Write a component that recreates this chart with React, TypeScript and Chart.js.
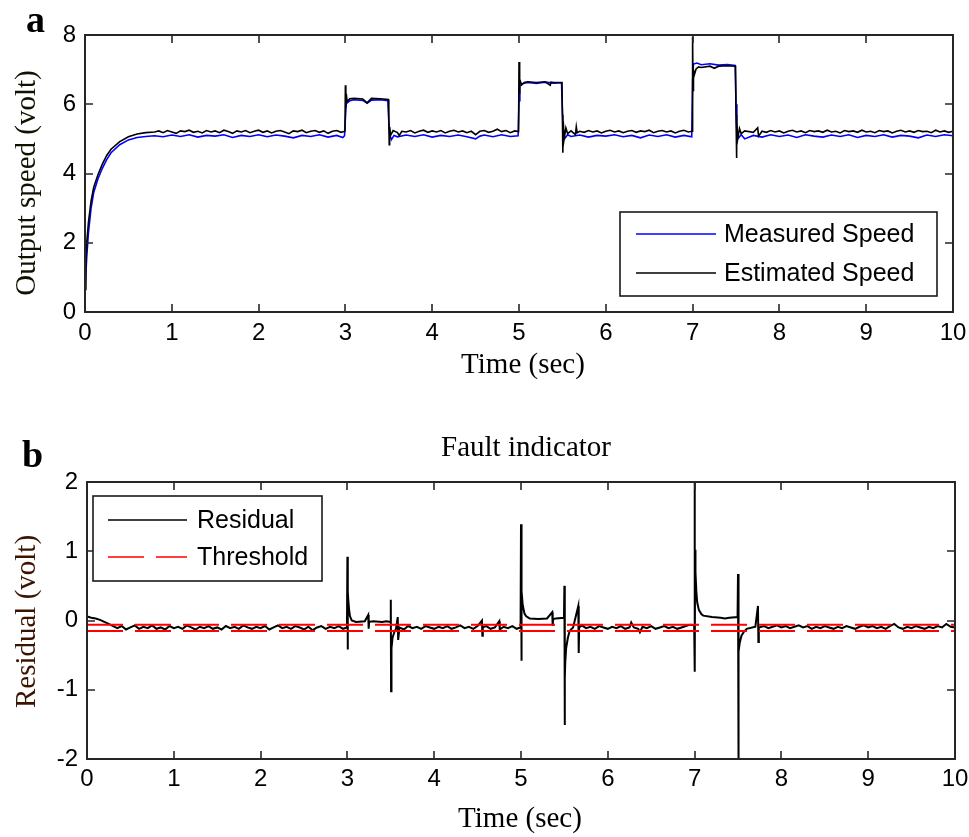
import React, { useEffect, useRef } from 'react';
import { Chart, registerables } from 'chart.js';

Chart.register(...registerables);

// ---------------- DATA ----------------
const xTickValues = [0, 1, 2, 3, 4, 5, 6, 7, 8, 9, 10];
const speedTicks = [0, 2, 4, 6, 8];
const residualTicks = [-2, -1, 0, 1, 2];

const seriesNames = ['Measured Speed', 'Estimated Speed', 'Residual', 'Threshold'];

// [time (sec), volt]
const measuredSpeed: [number, number][] = [
  [0, 0.6], [0.02, 1.6], [0.04, 2.3], [0.07, 3.0], [0.1, 3.45], [0.15, 3.85], [0.2, 4.15], [0.25, 4.4], [0.3, 4.6], [0.4, 4.83], [0.5, 4.97], [0.6, 5.04], [0.7, 5.07],
  [0.8, 5.09], [0.9, 5.06], [1.0, 5.11], [1.1, 5.07], [1.2, 5.12], [1.3, 5.05], [1.4, 5.1], [1.5, 5.08], [1.6, 5.12], [1.7, 5.04], [1.8, 5.1], [1.9, 5.07], [2.0, 5.12], [2.1, 5.06], [2.2, 5.11], [2.3, 5.08], [2.4, 5.03], [2.5, 5.1], [2.6, 5.07], [2.7, 5.12], [2.8, 5.05], [2.9, 5.1], [2.97, 5.04], [2.99, 5.09],
  [3.0, 5.6], [3.01, 6.02], [3.05, 6.1], [3.1, 6.13], [3.2, 6.11], [3.25, 6.03], [3.3, 6.12], [3.4, 6.13], [3.49, 6.1], [3.5, 5.5], [3.51, 5.12], [3.53, 4.98], [3.56, 5.1], [3.6, 5.06], [3.7, 5.11], [3.8, 5.07], [3.9, 5.12], [4.0, 5.05], [4.1, 5.1], [4.2, 5.07], [4.3, 5.11], [4.4, 5.06], [4.5, 5.0], [4.55, 5.08], [4.6, 5.11], [4.7, 5.06], [4.8, 5.12], [4.9, 5.07], [4.99, 5.09],
  [5.0, 6.1], [5.01, 6.52], [5.05, 6.6], [5.1, 6.63], [5.2, 6.6], [5.3, 6.64], [5.4, 6.61], [5.49, 6.62], [5.5, 5.8], [5.51, 5.2], [5.53, 5.02], [5.56, 5.12], [5.6, 5.07], [5.7, 5.11], [5.8, 5.05], [5.9, 5.1], [6.0, 5.08], [6.1, 5.12], [6.2, 5.06], [6.3, 5.1], [6.4, 5.03], [6.5, 5.11], [6.6, 5.07], [6.7, 5.12], [6.8, 5.05], [6.9, 5.1], [6.99, 5.06],
  [7.0, 6.7], [7.01, 7.16], [7.05, 7.19], [7.1, 7.14], [7.2, 7.17], [7.3, 7.13], [7.4, 7.15], [7.49, 7.12], [7.5, 6.0], [7.51, 5.2], [7.53, 5.03], [7.56, 5.12], [7.6, 5.0], [7.7, 5.1], [7.8, 5.05], [7.9, 5.12], [8.0, 5.07], [8.1, 5.11], [8.2, 5.04], [8.3, 5.12], [8.4, 5.08], [8.5, 5.05], [8.6, 5.11], [8.7, 5.07], [8.8, 5.12], [8.9, 5.04], [9.0, 5.1], [9.1, 5.07], [9.2, 5.12], [9.3, 5.05], [9.4, 5.1], [9.5, 5.08], [9.6, 5.03], [9.7, 5.11], [9.8, 5.07], [9.9, 5.12], [10, 5.09],
];

const estimatedSpeed: [number, number][] = [
  [0, 0.65], [0.01, 1.3], [0.02, 2.0], [0.04, 2.6], [0.07, 3.2], [0.1, 3.6], [0.15, 3.97], [0.2, 4.27], [0.25, 4.52], [0.3, 4.7], [0.4, 4.92], [0.5, 5.06], [0.6, 5.14], [0.7, 5.18],
  [0.8, 5.2], [0.85, 5.23], [0.9, 5.18], [0.95, 5.24], [1.0, 5.2], [1.05, 5.16], [1.1, 5.23], [1.15, 5.21], [1.2, 5.25], [1.25, 5.19], [1.3, 5.22], [1.35, 5.17], [1.4, 5.24], [1.45, 5.2], [1.5, 5.23], [1.55, 5.18], [1.6, 5.25], [1.65, 5.21], [1.7, 5.16], [1.75, 5.23], [1.8, 5.2], [1.85, 5.24], [1.9, 5.18], [1.95, 5.22], [2.0, 5.25], [2.05, 5.19], [2.1, 5.23], [2.15, 5.17], [2.2, 5.22], [2.25, 5.24], [2.3, 5.2], [2.35, 5.15], [2.4, 5.23], [2.45, 5.21], [2.5, 5.25], [2.55, 5.18], [2.6, 5.22], [2.65, 5.24], [2.7, 5.19], [2.75, 5.23], [2.8, 5.16], [2.85, 5.22], [2.9, 5.24], [2.95, 5.19], [2.995, 5.22],
  [3.0, 6.55], [3.005, 5.9], [3.01, 6.3], [3.02, 6.08], [3.05, 6.16], [3.1, 6.17], [3.2, 6.15], [3.25, 6.04], [3.3, 6.17], [3.4, 6.16], [3.495, 6.14], [3.5, 5.6], [3.505, 4.83], [3.51, 5.35], [3.52, 5.1],
  [3.55, 5.24], [3.6, 5.18], [3.62, 5.1], [3.65, 5.22], [3.7, 5.2], [3.75, 5.24], [3.8, 5.17], [3.85, 5.22], [3.9, 5.25], [3.95, 5.19], [4.0, 5.23], [4.05, 5.2], [4.1, 5.24], [4.15, 5.17], [4.2, 5.22], [4.25, 5.25], [4.3, 5.2], [4.35, 5.23], [4.4, 5.18], [4.45, 5.22], [4.5, 5.12], [4.55, 5.22], [4.6, 5.24], [4.65, 5.19], [4.7, 5.22], [4.75, 5.28], [4.8, 5.21], [4.85, 5.24], [4.9, 5.18], [4.95, 5.23], [4.995, 5.21],
  [5.0, 7.22], [5.005, 6.3], [5.01, 6.72], [5.03, 6.56], [5.06, 6.63], [5.1, 6.65], [5.2, 6.63], [5.3, 6.65], [5.36, 6.55], [5.37, 6.64], [5.4, 6.63], [5.495, 6.63], [5.5, 5.7], [5.505, 4.6], [5.51, 5.5], [5.52, 5.0], [5.54, 5.32], [5.56, 5.15], [5.6, 5.23], [5.65, 5.12], [5.66, 5.35], [5.67, 5.18],
  [5.7, 5.22], [5.75, 5.19], [5.8, 5.24], [5.85, 5.2], [5.9, 5.23], [5.95, 5.17], [6.0, 5.22], [6.05, 5.25], [6.1, 5.2], [6.15, 5.23], [6.2, 5.18], [6.25, 5.22], [6.3, 5.24], [6.35, 5.19], [6.4, 5.23], [6.45, 5.21], [6.5, 5.25], [6.55, 5.18], [6.6, 5.22], [6.65, 5.24], [6.7, 5.2], [6.75, 5.23], [6.8, 5.17], [6.85, 5.22], [6.9, 5.25], [6.95, 5.2], [6.995, 5.22],
  [7.0, 7.95], [7.005, 6.4], [7.01, 7.0], [7.02, 6.85], [7.04, 7.02], [7.07, 7.08], [7.1, 7.06], [7.2, 7.1], [7.25, 7.04], [7.3, 7.1], [7.4, 7.11], [7.495, 7.1], [7.5, 5.7], [7.505, 4.45], [7.51, 5.5], [7.52, 5.0], [7.54, 5.3], [7.56, 5.15], [7.6, 5.23], [7.7, 5.19], [7.75, 5.32], [7.76, 5.08],
  [7.8, 5.22], [7.85, 5.19], [7.9, 5.24], [7.95, 5.2], [8.0, 5.23], [8.05, 5.17], [8.1, 5.22], [8.15, 5.25], [8.2, 5.2], [8.25, 5.23], [8.3, 5.18], [8.35, 5.24], [8.4, 5.21], [8.45, 5.23], [8.5, 5.19], [8.55, 5.25], [8.6, 5.2], [8.65, 5.22], [8.7, 5.17], [8.75, 5.24], [8.8, 5.21], [8.85, 5.23], [8.9, 5.19], [8.95, 5.25], [9.0, 5.2], [9.05, 5.22], [9.1, 5.18], [9.15, 5.24], [9.2, 5.21], [9.25, 5.23], [9.3, 5.17], [9.35, 5.22], [9.4, 5.25], [9.45, 5.2], [9.5, 5.23], [9.55, 5.19], [9.6, 5.24], [9.65, 5.21], [9.7, 5.22], [9.75, 5.18], [9.8, 5.25], [9.85, 5.2], [9.9, 5.23], [9.95, 5.19], [10, 5.22],
];

const residual: [number, number][] = [
  [0, 0.06], [0.05, 0.04], [0.1, 0.03], [0.15, 0.01], [0.2, -0.02], [0.25, -0.05],
  [0.3, -0.08], [0.35, -0.11], [0.4, -0.08], [0.45, -0.13], [0.5, -0.1], [0.55, -0.07], [0.6, -0.12], [0.65, -0.09], [0.7, -0.11], [0.75, -0.07], [0.8, -0.12], [0.85, -0.1], [0.9, -0.13], [0.95, -0.08], [1.0, -0.11], [1.05, -0.09], [1.1, -0.12], [1.15, -0.07], [1.2, -0.1], [1.25, -0.13], [1.3, -0.09], [1.35, -0.11], [1.4, -0.08], [1.45, -0.12], [1.5, -0.1], [1.55, -0.13], [1.6, -0.08], [1.65, -0.11], [1.7, -0.09], [1.75, -0.12], [1.8, -0.07], [1.85, -0.1], [1.9, -0.12], [1.95, -0.09], [2.0, -0.11], [2.05, -0.08], [2.1, -0.13], [2.15, -0.1], [2.2, -0.07], [2.25, -0.11], [2.3, -0.09], [2.35, -0.12], [2.4, -0.08], [2.45, -0.1], [2.5, -0.13], [2.55, -0.09], [2.6, -0.14], [2.65, -0.1], [2.7, -0.08], [2.75, -0.12], [2.8, -0.09], [2.85, -0.11], [2.9, -0.08], [2.95, -0.12], [2.995, -0.1],
  [3.0, 0.92], [3.003, -0.42], [3.006, 0.42], [3.01, 0.3], [3.02, 0.15], [3.03, 0.06], [3.05, 0.0], [3.1, -0.02], [3.2, -0.01], [3.24, 0.08], [3.245, -0.12], [3.25, -0.02], [3.3, -0.01], [3.4, -0.02], [3.45, -0.01], [3.495, -0.02], [3.5, 0.3], [3.503, -1.02], [3.506, -0.6], [3.51, -0.4], [3.52, -0.25], [3.54, -0.17], [3.56, -0.12], [3.58, 0.05], [3.585, -0.28],
  [3.6, -0.1], [3.65, -0.13], [3.7, -0.08], [3.75, -0.11], [3.8, -0.09], [3.85, -0.12], [3.9, -0.08], [3.95, -0.1], [4.0, -0.12], [4.05, -0.09], [4.1, -0.11], [4.15, -0.08], [4.2, -0.12], [4.25, -0.1], [4.3, -0.07], [4.35, -0.11], [4.4, -0.09], [4.45, -0.12], [4.5, -0.08], [4.55, 0.0], [4.555, -0.22], [4.56, -0.1], [4.6, -0.08], [4.65, -0.12], [4.7, -0.1], [4.75, -0.01], [4.755, -0.13], [4.8, -0.09], [4.85, -0.11], [4.9, -0.08], [4.95, -0.12], [4.995, -0.1],
  [5.0, 1.39], [5.003, -0.58], [5.006, 0.63], [5.01, 0.42], [5.02, 0.22], [5.04, 0.1], [5.06, 0.06], [5.1, 0.03], [5.2, 0.02], [5.3, 0.03], [5.36, 0.12], [5.365, -0.08], [5.37, 0.02], [5.4, 0.03], [5.495, 0.04], [5.5, 0.5], [5.503, -1.51], [5.506, -0.83], [5.51, -0.6], [5.52, -0.4], [5.54, -0.25], [5.56, -0.15], [5.6, -0.1], [5.66, 0.21], [5.665, -0.47], [5.67, -0.1],
  [5.7, -0.07], [5.75, -0.11], [5.8, -0.09], [5.85, -0.12], [5.9, -0.08], [5.95, -0.1], [6.0, -0.12], [6.05, -0.09], [6.1, -0.11], [6.15, -0.08], [6.2, -0.12], [6.25, -0.1], [6.27, -0.03], [6.3, -0.1], [6.35, -0.12], [6.37, -0.17], [6.4, -0.09], [6.45, -0.11], [6.5, -0.08], [6.55, -0.12], [6.6, -0.1], [6.65, -0.08], [6.7, -0.11], [6.75, -0.09], [6.8, -0.12], [6.85, -0.1], [6.9, -0.08], [6.95, -0.06], [6.995, -0.07],
  [7.0, 2.1], [7.003, -0.74], [7.006, 1.02], [7.01, 0.7], [7.02, 0.42], [7.03, 0.26], [7.05, 0.15], [7.08, 0.09], [7.1, 0.07], [7.2, 0.05], [7.3, 0.04], [7.35, 0.03], [7.4, 0.04], [7.495, 0.05], [7.5, 0.67], [7.503, -2.1], [7.506, -0.64], [7.51, -0.45], [7.52, -0.32], [7.54, -0.22], [7.57, -0.16], [7.6, -0.12], [7.7, -0.09], [7.73, 0.21], [7.735, -0.31], [7.74, -0.1],
  [7.8, -0.08], [7.85, -0.11], [7.9, -0.09], [7.95, -0.07], [8.0, -0.1], [8.05, -0.08], [8.1, -0.11], [8.15, -0.09], [8.2, -0.07], [8.25, -0.1], [8.3, -0.08], [8.35, -0.12], [8.4, -0.09], [8.45, -0.11], [8.5, -0.08], [8.55, -0.1], [8.6, -0.12], [8.65, -0.09], [8.7, -0.11], [8.75, -0.08], [8.8, -0.1], [8.85, -0.12], [8.9, -0.09], [8.95, -0.07], [9.0, -0.1], [9.05, -0.08], [9.1, -0.11], [9.15, -0.09], [9.2, -0.12], [9.25, -0.08], [9.3, -0.05], [9.35, -0.1], [9.4, -0.12], [9.45, -0.09], [9.5, -0.11], [9.55, -0.08], [9.6, -0.1], [9.65, -0.12], [9.7, -0.09], [9.75, -0.11], [9.8, -0.08], [9.85, -0.1], [9.9, -0.05], [9.95, -0.09], [10, -0.1],
];

const thresholdUpper: [number, number][] = [[0, -0.06], [10, -0.06]];
const thresholdLower: [number, number][] = [[0, -0.15], [10, -0.15]];

// ---------------- STYLE ----------------
const SANS = '"Liberation Sans", Arial, sans-serif';
const SERIF = '"Liberation Serif", "Times New Roman", serif';

const toXY = (arr: [number, number][]) => arr.map(([x, y]) => ({ x, y }));

type TextSpec = { text: string; x: number; y: number; font: string; color?: string; align?: CanvasTextAlign; baseline?: CanvasTextBaseline; rotate?: number };

const framePlugin = {
  id: 'frame',
  afterDatasetsDraw(chart: any, _args: any, opts: any) {
    const { ctx, chartArea: a, scales } = chart;
    ctx.save();
    ctx.strokeStyle = '#262626';
    ctx.lineWidth = 1.6;
    const L = 8;
    ctx.beginPath();
    for (const t of scales.x.ticks) {
      const px = Math.round(scales.x.getPixelForValue(t.value));
      if (px <= a.left + 1 || px >= a.right - 1) continue;
      ctx.moveTo(px, a.bottom); ctx.lineTo(px, a.bottom - L);
      ctx.moveTo(px, a.top); ctx.lineTo(px, a.top + L);
    }
    for (const t of scales.y.ticks) {
      const py = Math.round(scales.y.getPixelForValue(t.value));
      if (py <= a.top + 1 || py >= a.bottom - 1) continue;
      ctx.moveTo(a.left, py); ctx.lineTo(a.left + L, py);
      ctx.moveTo(a.right, py); ctx.lineTo(a.right - L, py);
    }
    ctx.stroke();
    ctx.lineWidth = 2;
    ctx.strokeRect(a.left, a.top, a.right - a.left, a.bottom - a.top);

    const lg = opts.legend;
    if (lg) {
      ctx.fillStyle = '#ffffff';
      ctx.fillRect(lg.x, lg.y, lg.w, lg.h);
      ctx.strokeStyle = '#1a1a1a';
      ctx.lineWidth = 1.6;
      ctx.strokeRect(lg.x, lg.y, lg.w, lg.h);
      const items = chart.data.datasets.filter((d: any) => d.label);
      items.forEach((d: any, i: number) => {
        const yy = lg.y + lg.first + i * lg.gap;
        ctx.beginPath();
        ctx.strokeStyle = d.borderColor;
        ctx.lineWidth = Math.min(d.borderWidth, 1.6);
        ctx.setLineDash(d.borderDash || []);
        ctx.moveTo(lg.x + lg.lineStart, yy);
        ctx.lineTo(lg.x + lg.lineStart + lg.lineLen, yy);
        ctx.stroke();
        ctx.setLineDash([]);
        ctx.fillStyle = '#000';
        ctx.font = `25px ${SANS}`;
        ctx.textAlign = 'left';
        ctx.textBaseline = 'middle';
        ctx.fillText(d.label, lg.x + lg.textStart, yy + 1);
      });
    }
    ctx.restore();
  },
  afterDraw(chart: any, _args: any, opts: any) {
    const { ctx } = chart;
    const texts: TextSpec[] = opts.texts || [];
    for (const t of texts) {
      ctx.save();
      ctx.translate(t.x, t.y);
      if (t.rotate) ctx.rotate(t.rotate);
      ctx.font = t.font;
      ctx.fillStyle = t.color || '#000';
      ctx.textAlign = t.align || 'left';
      ctx.textBaseline = t.baseline || 'alphabetic';
      ctx.fillText(t.text, 0, 0);
      ctx.restore();
    }
  },
};

function makeScales(yMin: number, yMax: number, yTicks: number[], yWidth: number, xHeight: number, xPad: number) {
  return {
    x: {
      type: 'linear',
      min: xTickValues[0],
      max: xTickValues[xTickValues.length - 1],
      afterBuildTicks: (s: any) => { s.ticks = xTickValues.map((v) => ({ value: v })); },
      ticks: { padding: xPad, color: '#000', font: { family: SANS, size: 24 }, maxRotation: 0, autoSkip: false },
      grid: { display: false, drawTicks: false },
      border: { display: false },
      afterFit: (s: any) => { s.height = xHeight; s.paddingLeft = 0; s.paddingRight = 0; },
    },
    y: {
      type: 'linear',
      min: yMin,
      max: yMax,
      afterBuildTicks: (s: any) => { s.ticks = yTicks.map((v) => ({ value: v })); },
      ticks: { padding: 9, color: '#000', font: { family: SANS, size: 24 } },
      grid: { display: false, drawTicks: false },
      border: { display: false },
      afterFit: (s: any) => { s.width = yWidth; s.paddingTop = 0; s.paddingBottom = 0; },
    },
  };
}

function ChartCanvas({ config, width, height, top }: { config: any; width: number; height: number; top: number }) {
  const ref = useRef<HTMLCanvasElement | null>(null);
  useEffect(() => {
    if (!ref.current) return;
    const chart = new Chart(ref.current, config);
    return () => chart.destroy();
  }, [config]);
  return (
    <canvas
      ref={ref}
      width={width}
      height={height}
      style={{ position: 'absolute', left: 0, top, width, height, display: 'block' }}
    />
  );
}

const topConfig = {
  type: 'line',
  data: {
    datasets: [
      { label: seriesNames[0], data: toXY(measuredSpeed), borderColor: '#0000ff', borderWidth: 1.6, pointRadius: 0, tension: 0, order: 1 },
      { label: seriesNames[1], data: toXY(estimatedSpeed), borderColor: '#000000', borderWidth: 1.6, pointRadius: 0, tension: 0, order: 0 },
    ],
  },
  options: {
    responsive: false,
    animation: false,
    events: [],
    layout: { padding: { top: 35, right: 16, left: 0, bottom: 0 } },
    scales: makeScales(0, 8, speedTicks, 85, 106, 7),
    plugins: {
      legend: { display: false },
      tooltip: { enabled: false },
      frame: {
        legend: { x: 620, y: 212, w: 317, h: 84, first: 22, gap: 39, lineStart: 16, lineLen: 80, textStart: 104 },
        texts: [
          { text: 'a', x: 26, y: 32, font: `bold 38px ${SERIF}` },
          { text: 'Output speed (volt)', x: 27, y: 183, font: `29px ${SERIF}`, align: 'center', baseline: 'middle', rotate: -Math.PI / 2, color: '#111100' },
          { text: 'Time (sec)', x: 523, y: 373, font: `29px ${SERIF}`, align: 'center' },
        ],
      },
    },
  },
  plugins: [framePlugin],
};

const bottomConfig = {
  type: 'line',
  data: {
    datasets: [
      { label: seriesNames[2], data: toXY(residual), borderColor: '#000000', borderWidth: 2, pointRadius: 0, tension: 0, order: 1 },
      { label: seriesNames[3], data: toXY(thresholdUpper), borderColor: '#ff0000', borderWidth: 2, borderDash: [36, 12], pointRadius: 0, tension: 0, order: 0 },
      { label: '', data: toXY(thresholdLower), borderColor: '#ff0000', borderWidth: 2, borderDash: [36, 12], pointRadius: 0, tension: 0, order: 0 },
    ],
  },
  options: {
    responsive: false,
    animation: false,
    events: [],
    layout: { padding: { top: 64, right: 14, left: 0, bottom: 0 } },
    scales: makeScales(-2, 2, residualTicks, 87, 78, 6),
    plugins: {
      legend: { display: false },
      tooltip: { enabled: false },
      frame: {
        legend: { x: 93, y: 78, w: 229, h: 85, first: 24, gap: 37, lineStart: 15, lineLen: 79, textStart: 104 },
        texts: [
          { text: 'b', x: 22, y: 49, font: `bold 38px ${SERIF}` },
          { text: 'Fault indicator', x: 526, y: 38, font: `29px ${SERIF}`, align: 'center' },
          { text: 'Residual (volt)', x: 27.5, y: 203.5, font: `29px ${SERIF}`, align: 'center', baseline: 'middle', rotate: -Math.PI / 2, color: '#3a1400' },
          { text: 'Time (sec)', x: 520, y: 409, font: `29px ${SERIF}`, align: 'center' },
        ],
      },
    },
  },
  plugins: [framePlugin],
};

export default function App() {
  return (
    <div style={{ position: 'absolute', left: 0, top: 0, width: 969, height: 837, background: '#ffffff', overflow: 'hidden' }}>
      <ChartCanvas config={topConfig} width={969} height={418} top={0} />
      <ChartCanvas config={bottomConfig} width={969} height={419} top={418} />
    </div>
  );
}
